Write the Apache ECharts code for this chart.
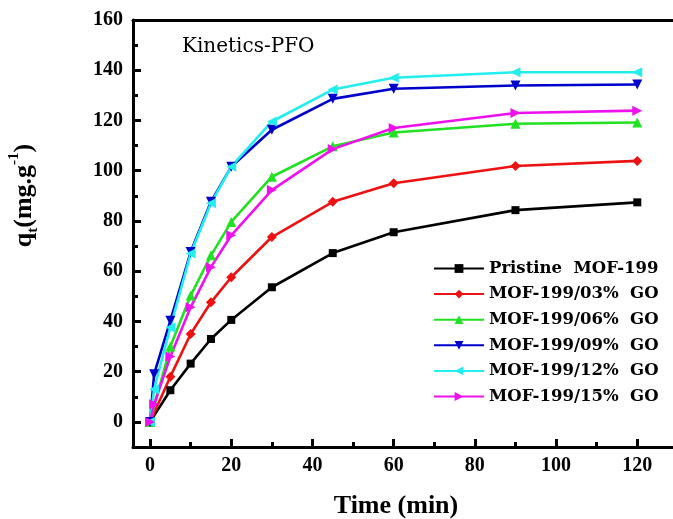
<!DOCTYPE html>
<html>
<head>
<meta charset="utf-8">
<script src="https://cdn.jsdelivr.net/npm/echarts@6/dist/echarts.min.js"></script>
<style>
  html, body { margin: 0; padding: 0; background: #fff; }
  #chart { width: 673px; height: 519px; }
</style>
</head>
<body>
<div id="chart"></div>
<script>
// Adsorption kinetics of PFO on MOF-199 and MOF-199/GO composites
const timeMain = [0, 5, 10, 15, 20, 30, 45, 60, 90, 120];
const timeFine = [0, 1, 5, 10, 15, 20, 30, 45, 60, 90, 120];

const pristine = [0, 12.6, 23.2, 33.0, 40.6, 53.6, 67.2, 75.5, 84.3, 87.4];
const go03 = [0, 18.0, 35.0, 47.6, 57.6, 73.6, 87.6, 95.0, 101.9, 103.9];
const go06 = [0, 30.0, 50.3, 66.3, 79.6, 97.6, 109.7, 115.2, 118.7, 119.2];
const go09 = [0, 19.0, 40.3, 67.6, 87.6, 101.6, 116.3, 128.6, 132.6, 133.9, 134.3];
const go12 = [0, 13.0, 37.6, 67.0, 87.0, 101.6, 119.6, 132.3, 137.0, 139.2, 139.2];
const go15 = [0, 7.0, 26.0, 45.6, 61.6, 74.3, 92.3, 108.6, 117.0, 123.0, 123.9];

const xMajor = [0, 20, 40, 60, 80, 100, 120];
const xMinor = [10, 30, 50, 70, 90, 110];
const yMajor = [0, 20, 40, 60, 80, 100, 120, 140, 160];
const yMinor = [10, 30, 50, 70, 90, 110, 130, 150];

const names = [
  'Pristine  MOF-199',
  'MOF-199/03%  GO',
  'MOF-199/06%  GO',
  'MOF-199/09%  GO',
  'MOF-199/12%  GO',
  'MOF-199/15%  GO'
];

const pair = (xs, ys) => xs.map((x, i) => [x, ys[i]]);

const SERIF = '"Liberation Serif", "Times New Roman", serif';
const WIDE_SERIF = '"DejaVu Serif", serif';

const X_MIN = -4.2, X_MAX = 128.8, Y_MIN = -10, Y_MAX = 160;

function line(name, data, color, symbol, size, rotate) {
  return {
    name: name,
    type: 'line',
    data: data,
    xAxisIndex: 0,
    yAxisIndex: 0,
    symbol: symbol,
    symbolSize: size,
    symbolRotate: rotate || 0,
    showAllSymbol: true,
    lineStyle: { color: color, width: 2.6 },
    itemStyle: { color: color },
    emphasis: { disabled: true },
    animation: false
  };
}

const tickLabel = { fontFamily: SERIF, fontWeight: 'bold', fontSize: 20, color: '#000' };
const tickStyle = { color: '#000', width: 3 };

const option = {
  animation: false,
  grid: { left: 133, top: 20, right: 0, bottom: 72, containLabel: false, outerBoundsMode: 'none' },
  xAxis: [
    {
      type: 'value', min: X_MIN, max: X_MAX,
      name: 'Time (min)', nameLocation: 'middle', nameGap: 46,
      nameTextStyle: { fontFamily: SERIF, fontWeight: 'bold', fontSize: 26, color: '#000', padding: [0, 14, 0, 0] },
      axisLine: { show: true, onZero: false, lineStyle: { color: '#000', width: 3 } },
      axisTick: { show: true, inside: true, length: 8, customValues: xMajor, lineStyle: tickStyle },
      axisLabel: Object.assign({ margin: 9, customValues: xMajor }, tickLabel),
      splitLine: { show: false }
    },
    {
      type: 'value', min: X_MIN, max: X_MAX, position: 'bottom',
      axisLine: { show: false, onZero: false },
      axisTick: { show: true, inside: true, length: 5, customValues: xMinor, lineStyle: tickStyle },
      axisLabel: { show: false },
      splitLine: { show: false }
    },
    {
      type: 'value', min: X_MIN, max: X_MAX, position: 'top',
      axisLine: { show: true, onZero: false, lineStyle: { color: '#000', width: 3 } },
      axisTick: { show: false },
      axisLabel: { show: false },
      splitLine: { show: false }
    }
  ],
  yAxis: [
    {
      type: 'value', min: Y_MIN, max: Y_MAX,
      name: '{q|q}{sub|t}{q|(mg.g}{sup|-1}{q|)}',
      nameLocation: 'middle', nameRotate: 90, nameGap: 92,
      nameTextStyle: {
        fontFamily: SERIF, fontWeight: 'bold', fontSize: 26, color: '#000',
        padding: [0, 0, 0, 76],
        rich: {
          q: { fontFamily: SERIF, fontWeight: 'bold', fontSize: 26, color: '#000', lineHeight: 34 },
          sub: { fontFamily: SERIF, fontWeight: 'bold', fontSize: 15, color: '#000', lineHeight: 34, verticalAlign: 'bottom', padding: [14, 0, 0, 0] },
          sup: { fontFamily: SERIF, fontWeight: 'bold', fontSize: 15, color: '#000', lineHeight: 34, verticalAlign: 'top', padding: [0, 0, 14, 0] }
        }
      },
      axisLine: { show: true, onZero: false, lineStyle: { color: '#000', width: 3 } },
      axisTick: { show: true, inside: true, length: 8, customValues: yMajor, lineStyle: tickStyle },
      axisLabel: Object.assign({ margin: 10, customValues: yMajor }, tickLabel),
      splitLine: { show: false }
    },
    {
      type: 'value', min: Y_MIN, max: Y_MAX, position: 'left',
      axisLine: { show: false, onZero: false },
      axisTick: { show: true, inside: true, length: 5, customValues: yMinor, lineStyle: tickStyle },
      axisLabel: { show: false },
      splitLine: { show: false }
    }
  ],
  legend: {
    orient: 'vertical',
    left: 428,
    top: 255,
    itemWidth: 50,
    itemHeight: 11,
    itemGap: 8.6,
    data: names,
    textStyle: { fontFamily: WIDE_SERIF, fontWeight: 'bold', fontSize: 16.5, color: '#000' },
    selectedMode: false
  },
  graphic: [
    {
      type: 'text', left: 182, top: 37,
      style: { text: 'Kinetics-PFO', font: '20px "DejaVu Serif", serif', fill: '#000' }
    }
  ],
  series: [
    line(names[0], pair(timeMain, pristine), '#000000', 'rect', 8),
    line(names[1], pair(timeMain, go03), '#ee1111', 'diamond', 10),
    line(names[2], pair(timeMain, go06), '#22e022', 'triangle', 10),
    line(names[3], pair(timeFine, go09), '#0000cc', 'triangle', 10, 180),
    line(names[4], pair(timeFine, go12), '#22eeee', 'triangle', 10, 90),
    line(names[5], pair(timeFine, go15), '#ee11ee', 'triangle', 10, -90)
  ]
};

const chart = echarts.init(document.getElementById('chart'), null, { renderer: 'canvas' });
chart.setOption(option);
</script>
</body>
</html>
